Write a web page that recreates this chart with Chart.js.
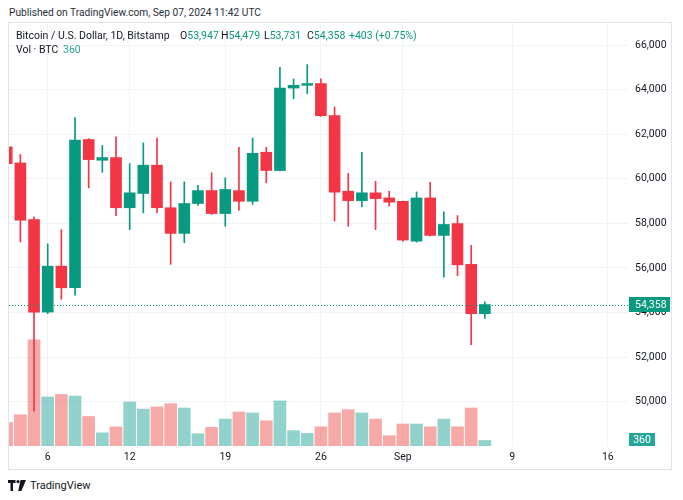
<!DOCTYPE html>
<html lang="en">
<head>
    <meta charset="UTF-8">
    <title>Bitcoin / U.S. Dollar, 1D, Bitstamp</title>
    <style>
        body {
            margin: 0;
            width: 683px;
            height: 500px;
            background: #fff;
            font-family: Roboto, "Liberation Sans", sans-serif;
            color: #131722;
            position: relative;
            overflow: hidden;
        }
        .txt {
            position: absolute;
            font-size: 10.5px;
            line-height: 12px;
            white-space: nowrap;
        }
        .up { color: #089981; }
        .vol { color: #26a69a; }
        #frame {
            position: absolute;
            left: 8px;
            top: 22px;
            width: 662px;
            height: 446px;
            border: 1px solid #e0e3eb;
        }
        #footer {
            position: absolute;
            left: 8px;
            top: 479px;
            display: flex;
            align-items: center;
            font-size: 11px;
            line-height: 13px;
        }
        #footer svg { margin-right: 4px; }
    </style>
    <script src="https://cdn.jsdelivr.net/npm/chart.js"></script>
</head>
<body>
    <div class="txt" style="left:9px;top:7px;font-size:10.2px;color:#2a2e39">Published on TradingView.com, Sep 07, 2024 11:42 UTC</div>
    <div id="frame">
        <canvas id="chart" width="662" height="446"></canvas>
    </div>
    <div class="txt" style="left:16px;top:29.5px">Bitcoin / U.S. Dollar, 1D, Bitstamp</div>
    <div class="txt" style="left:180px;top:29.5px">O<span class="up">53,947</span></div>
    <div class="txt" style="left:221px;top:29.5px">H<span class="up">54,479</span></div>
    <div class="txt" style="left:264px;top:29.5px">L<span class="up">53,731</span></div>
    <div class="txt" style="left:307px;top:29.5px">C<span class="up">54,358</span></div>
    <div class="txt up" style="left:349px;top:29.5px">+403 (+0.75%)</div>
    <div class="txt" style="left:16px;top:44px">Vol · BTC</div>
    <div class="txt vol" style="left:63px;top:44px">360</div>
    <div id="footer">
        <svg width="18" height="11" viewBox="0 0 18 11">
            <path d="M0 0h7.5v3H5v8H2.5V3H0z" fill="#131722"/>
            <circle cx="10" cy="1.6" r="1.6" fill="#131722"/>
            <path d="M12.5 0H18l-4.6 11h-3.2z" fill="#131722"/>
        </svg>
        <span>TradingView</span>
    </div>
    <script>
        // day index: Aug 3 = 3 ... Aug 31 = 31, Sep 1 = 32 ... Sep 7 = 38
        const days = [3, 4, 5, 6, 7, 8, 9, 10, 11, 12, 13, 14, 15, 16, 17, 18, 19, 20, 21, 22, 23, 24, 25, 26, 27, 28, 29, 30, 31, 32, 33, 34, 35, 36, 37, 38];
        const opens = [61430, 60710, 58170, 54020, 56080, 55110, 61760, 60830, 60950, 58700, 59340, 60610, 58700, 57550, 58890, 59470, 58440, 59470, 58990, 61190, 60370, 64070, 64190, 64270, 62830, 59440, 59020, 59370, 59140, 58990, 57200, 59140, 57460, 57990, 56160, 53947];
        const highs = [62200, 61090, 58290, 57080, 57720, 62740, 61800, 61490, 61880, 60680, 61610, 61830, 59860, 59860, 59700, 60270, 60040, 61410, 61830, 61410, 65000, 64480, 65120, 64480, 63220, 60240, 61190, 59890, 59440, 59000, 59410, 59840, 58520, 58350, 57010, 54479];
        const lows = [59900, 57160, 49580, 53950, 54590, 54780, 59590, 60290, 58350, 57720, 58470, 58470, 56160, 57130, 58810, 58400, 57870, 58580, 58850, 59820, 60350, 63590, 63820, 62800, 58100, 57870, 58740, 57720, 58770, 57200, 57160, 57430, 55590, 55660, 52560, 53731];
        const closes = [60680, 58140, 54020, 56080, 55110, 61730, 60860, 60950, 58700, 59370, 60610, 58700, 57550, 58890, 59470, 58440, 59520, 58990, 61140, 60370, 64070, 64190, 64270, 62830, 59400, 59020, 59370, 59110, 58950, 57250, 59140, 57460, 57950, 56140, 53950, 54358];
        const volumes = [1530, 2030, 6900, 3190, 3350, 3250, 1920, 860, 1250, 2860, 2400, 2540, 2750, 2470, 800, 1210, 1750, 2210, 2150, 1640, 2930, 1000, 820, 1250, 2150, 2360, 2150, 1750, 670, 1430, 1430, 1250, 1750, 1250, 2470, 360];

        const xTickDays = [6, 12, 19, 26, 32, 40, 47];
        const xTickLabels = ['6', '12', '19', '26', 'Sep', '9', '16'];
        const priceTicks = [50000, 52000, 54000, 56000, 58000, 60000, 62000, 64000, 66000];

        const lastClose = closes[closes.length - 1];
        const lastVolume = volumes[volumes.length - 1];

        const upColor = '#089981';
        const downColor = '#f23645';
        const isUp = closes.map((c, i) => c >= opens[i]);
        const candleColors = isUp.map(u => u ? upColor : downColor);
        const volColors = isUp.map(u => u ? 'rgba(38, 166, 154, 0.5)' : 'rgba(239, 83, 80, 0.5)');

        const fontFamily = 'Roboto, "Liberation Sans", sans-serif';

        const lastValuePlugin = {
            id: 'lastValue',
            afterDatasetsDraw(chart) {
                const { ctx, chartArea, scales } = chart;
                const y = Math.round(scales.y.getPixelForValue(lastClose)) + 0.5;
                ctx.save();
                ctx.strokeStyle = upColor;
                ctx.lineWidth = 1;
                ctx.setLineDash([1, 2]);
                ctx.beginPath();
                ctx.moveTo(chartArea.left, y);
                ctx.lineTo(chartArea.right, y);
                ctx.stroke();
                ctx.restore();
            },
            afterDraw(chart) {
                const { ctx, chartArea, scales } = chart;
                ctx.save();
                ctx.font = '10.5px ' + fontFamily;
                ctx.textBaseline = 'middle';

                // price label
                let y = scales.y.getPixelForValue(lastClose);
                ctx.fillStyle = upColor;
                ctx.fillRect(chartArea.right + 1, Math.round(y - 7.5), 41, 15);
                ctx.fillStyle = '#fff';
                ctx.textAlign = 'left';
                ctx.fillText(lastClose.toLocaleString('en-US'), chartArea.right + 7, y + 0.5);

                // volume label
                y = scales.vol.getPixelForValue(lastVolume);
                let top = Math.min(y - 6.5, chartArea.bottom - 13);
                ctx.fillStyle = '#26a69a';
                ctx.fillRect(chartArea.right + 1, Math.round(top), 26, 13);
                ctx.fillStyle = '#fff';
                ctx.textAlign = 'center';
                ctx.fillText(String(lastVolume), chartArea.right + 14, Math.round(top) + 7);
                ctx.restore();
            }
        };

        new Chart(document.getElementById('chart'), {
            type: 'bar',
            data: {
                datasets: [
                    {
                        label: 'Body',
                        data: days.map((d, i) => ({ x: d, y: [opens[i], closes[i]] })),
                        backgroundColor: candleColors,
                        barThickness: 11,
                        grouped: false,
                        yAxisID: 'y',
                        order: 1
                    },
                    {
                        label: 'Wick',
                        data: days.map((d, i) => ({ x: d, y: [lows[i], highs[i]] })),
                        backgroundColor: candleColors,
                        barThickness: 1,
                        grouped: false,
                        yAxisID: 'y',
                        order: 2
                    },
                    {
                        label: 'Volume',
                        data: days.map((d, i) => ({ x: d, y: volumes[i] })),
                        backgroundColor: volColors,
                        barThickness: 12,
                        grouped: false,
                        yAxisID: 'vol',
                        order: 3
                    }
                ]
            },
            options: {
                responsive: false,
                animation: false,
                layout: { padding: 0 },
                plugins: {
                    legend: { display: false },
                    tooltip: { enabled: false }
                },
                scales: {
                    x: {
                        type: 'linear',
                        min: 3.167,
                        max: 48.48,
                        offset: false,
                        grid: { color: '#f0f3fa', offset: false, drawTicks: false },
                        border: { display: false },
                        afterBuildTicks: (scale) => {
                            scale.ticks = xTickDays.map(v => ({ value: v }));
                        },
                        afterFit: (scale) => { scale.height = 23; },
                        ticks: {
                            autoSkip: false,
                            maxRotation: 0,
                            padding: 5,
                            color: '#131722',
                            font: { family: fontFamily, size: 10.5 },
                            callback: (value) => xTickLabels[xTickDays.indexOf(value)]
                        }
                    },
                    y: {
                        position: 'right',
                        min: 48013,
                        max: 66987,
                        beginAtZero: false,
                        grid: { color: '#f0f3fa', drawTicks: false },
                        border: { display: false },
                        afterBuildTicks: (scale) => {
                            scale.ticks = priceTicks.map(v => ({ value: v }));
                        },
                        afterFit: (scale) => {
                            scale.width = 43;
                            scale.paddingTop = 0;
                            scale.paddingBottom = 0;
                        },
                        ticks: {
                            padding: 7,
                            color: '#131722',
                            font: { family: fontFamily, size: 10.5 },
                            callback: (value) => value.toLocaleString('en-US')
                        }
                    },
                    vol: {
                        display: false,
                        min: 0,
                        max: 27495
                    }
                }
            },
            plugins: [lastValuePlugin]
        });
    </script>
</body>
</html>
